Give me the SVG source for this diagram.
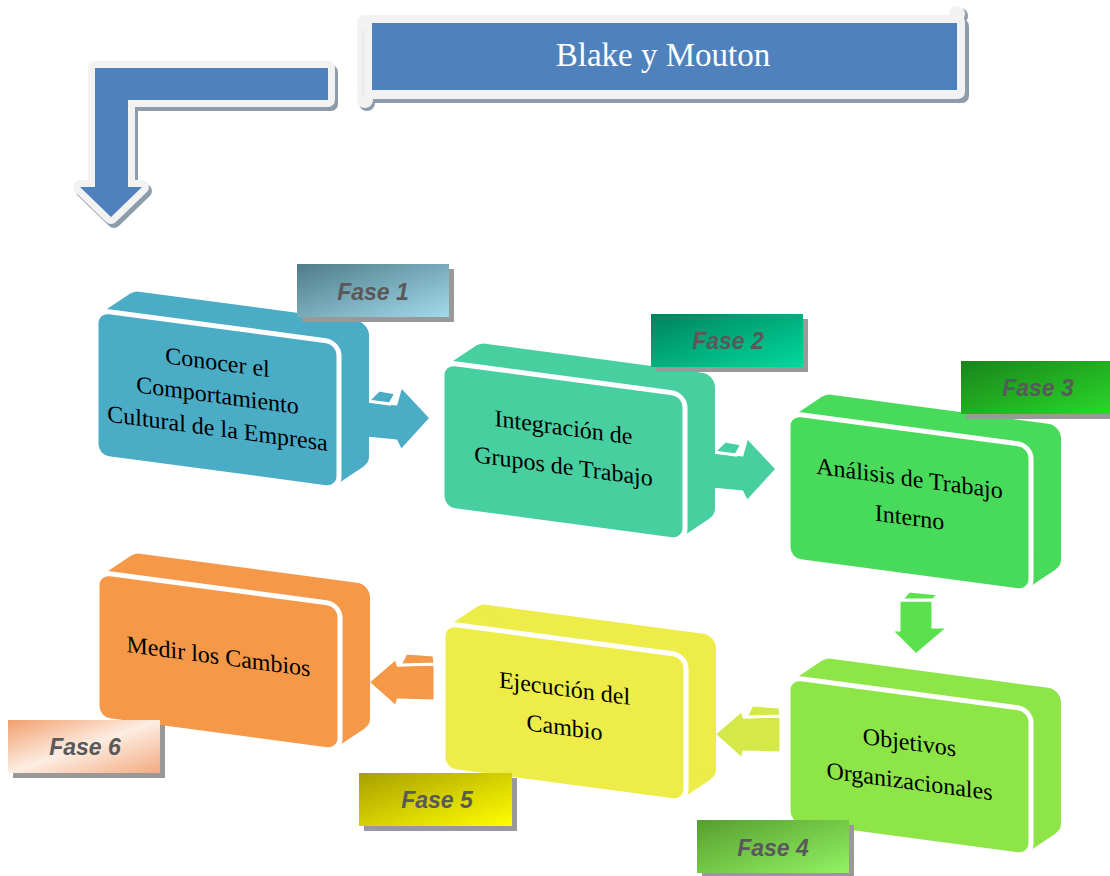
<svg xmlns="http://www.w3.org/2000/svg" xmlns:xlink="http://www.w3.org/1999/xlink" width="1110" height="876" viewBox="0 0 1110 876">
<defs>
<style>
.bt{font-family:"Liberation Serif","DejaVu Serif",serif;font-size:24px;fill:#000;text-anchor:middle}
.ft{font-family:"Liberation Sans",Arial,sans-serif;font-size:23px;font-weight:bold;font-style:italic;fill:#595959;text-anchor:middle}
.sh{fill:#999999}
.front{stroke:#ffffff;stroke-width:5}
.arr{stroke:#ffffff;stroke-width:3;stroke-linejoin:miter}
</style>
<rect id="face" width="243" height="147" rx="13"/>
<polygon id="sweep" points="4.6,2.7 34.6,-21.3 268.4,120.3 238.4,144.3"/>
<linearGradient id="g1" x1="0" y1="0" x2="1" y2="1"><stop offset="0" stop-color="#4E7C8A"/><stop offset="1" stop-color="#A2DAEA"/></linearGradient>
<linearGradient id="g2" x1="0" y1="0" x2="1" y2="1"><stop offset="0" stop-color="#00825C"/><stop offset="1" stop-color="#00DA9C"/></linearGradient>
<linearGradient id="g3" x1="0" y1="0" x2="1" y2="1"><stop offset="0" stop-color="#1A841A"/><stop offset="1" stop-color="#2AD82A"/></linearGradient>
<linearGradient id="g4" x1="0" y1="0" x2="1" y2="1"><stop offset="0" stop-color="#579E30"/><stop offset="1" stop-color="#92F262"/></linearGradient>
<linearGradient id="g5" x1="0" y1="0" x2="1" y2="1"><stop offset="0" stop-color="#A8A000"/><stop offset="1" stop-color="#FFFF00"/></linearGradient>
<linearGradient id="g6" x1="0" y1="0" x2="1" y2="1"><stop offset="0" stop-color="#F0A06E"/><stop offset="0.5" stop-color="#FDEDE2"/><stop offset="1" stop-color="#F3AA80"/></linearGradient>
</defs>

<!-- title banner -->
<g id="title">
<rect x="361" y="19" width="608" height="84" rx="7" fill="#8E9BAB"/>
<circle cx="960" cy="16" r="8" fill="#8E9BAB"/>
<circle cx="367" cy="103" r="8" fill="#8E9BAB"/>
<rect x="357" y="15" width="608" height="84" rx="7" fill="#F2F2F2"/>
<circle cx="957" cy="14" r="8" fill="#F2F2F2"/>
<circle cx="365" cy="100" r="8" fill="#F2F2F2"/>
<line x1="363" y1="30" x2="363" y2="95" stroke="#E0E0E0" stroke-width="1"/>
<rect x="372" y="23" width="585" height="67" fill="#4F81BD"/>
<text x="663" y="66" style="font-family:'Liberation Serif','DejaVu Serif',serif;font-size:33px;fill:#ffffff;text-anchor:middle">Blake y Mouton</text>
</g>

<!-- bent arrow -->
<g id="bent-arrow">
<path d="M95,68 H328 V100 H128 V187 H142 L111,217 L80,187 H95 Z" transform="translate(3,4)" fill="#8E9BAB" stroke="#8E9BAB" stroke-width="14" stroke-linejoin="round"/>
<path d="M95,68 H328 V100 H128 V187 H142 L111,217 L80,187 H95 Z" fill="#F2F2F2" stroke="#F2F2F2" stroke-width="14" stroke-linejoin="round"/>
<path d="M95,68 H328 V100 H128 V187 H142 L111,217 L80,187 H95 Z" fill="#4F81BD"/>
</g>

<!-- connectors -->
<g id="connectors">
<g id="a1" fill="#4BACC6">
<polygon class="arr" points="366,401 396,404 401,386 431,418 401,451 396,441 366,438"/>
<polygon class="arr" points="368,401 379,390 396,393 390,404"/>
</g>
<g id="a2" fill="#48CF9F" transform="translate(346,51)">
<polygon class="arr" points="366,401 396,404 401,386 431,418 401,451 396,441 366,438"/>
<polygon class="arr" points="368,401 379,390 396,393 390,404"/>
</g>
<g id="a3" fill="#5BE04E">
<polygon class="arr" points="899,600 933,600 933,627 949,627 916,655 891,630 899,630"/>
<polygon class="arr" points="901,600 909,591 939,594 933,600"/>
</g>
<g id="a4" fill="#D4E84A">
<polygon class="arr" points="714,734 742,710 744,717 781,716 781,753 744,752 742,759"/>
<polygon class="arr" points="746,717 752,705 780,707 781,716"/>
</g>
<g id="a5" fill="#F59847" transform="translate(-346,-52)">
<polygon class="arr" points="714,734 742,710 744,717 781,716 781,753 744,752 742,759"/>
<polygon class="arr" points="746,717 752,705 780,707 781,716"/>
</g>
</g>

<!-- boxes -->
<g id="box1" transform="translate(96,310) skewY(7.6)" fill="#4BACC6">
<use xlink:href="#face" x="30" y="-24"/><use xlink:href="#sweep"/><use xlink:href="#face" class="front"/>
<text class="bt" x="121.5" y="44">Conocer el</text>
<text class="bt" x="121.5" y="77">Comportamiento</text>
<text class="bt" x="121.5" y="110">Cultural de la Empresa</text>
</g>
<g id="box2" transform="translate(442,362) skewY(7.6)" fill="#48CF9F">
<use xlink:href="#face" x="30" y="-24"/><use xlink:href="#sweep"/><use xlink:href="#face" class="front"/>
<text class="bt" x="121.5" y="57">Integración de</text>
<text class="bt" x="121.5" y="96">Grupos de Trabajo</text>
</g>
<g id="box3" transform="translate(788,413) skewY(7.6)" fill="#48DA5A">
<use xlink:href="#face" x="30" y="-24"/><use xlink:href="#sweep"/><use xlink:href="#face" class="front"/>
<text class="bt" x="121.5" y="57">Análisis de Trabajo</text>
<text class="bt" x="121.5" y="96">Interno</text>
</g>
<g id="box4" transform="translate(788,677) skewY(7.6)" fill="#8DE548">
<use xlink:href="#face" x="30" y="-24"/><use xlink:href="#sweep"/><use xlink:href="#face" class="front"/>
<text class="bt" x="121.5" y="57">Objetivos</text>
<text class="bt" x="121.5" y="96">Organizacionales</text>
</g>
<g id="box5" transform="translate(443,623) skewY(7.6)" fill="#EDEC48">
<use xlink:href="#face" x="30" y="-24"/><use xlink:href="#sweep"/><use xlink:href="#face" class="front"/>
<text class="bt" x="121.5" y="57">Ejecución del</text>
<text class="bt" x="121.5" y="96">Cambio</text>
</g>
<g id="box6" transform="translate(97,572) skewY(7.6)" fill="#F59847">
<use xlink:href="#face" x="30" y="-24"/><use xlink:href="#sweep"/><use xlink:href="#face" class="front"/>
<text class="bt" x="121.5" y="76">Medir los Cambios</text>
</g>

<!-- phase labels -->
<g id="fase1"><rect class="sh" x="302" y="269" width="152" height="53"/><rect x="297" y="264" width="152" height="53" fill="url(#g1)"/><text class="ft" x="373" y="300">Fase 1</text></g>
<g id="fase2"><rect class="sh" x="656" y="319" width="152" height="53"/><rect x="651" y="314" width="152" height="53" fill="url(#g2)"/><text class="ft" x="728" y="349">Fase 2</text></g>
<g id="fase3"><rect class="sh" x="966" y="366" width="152" height="53"/><rect x="961" y="361" width="152" height="53" fill="url(#g3)"/><text class="ft" x="1038" y="396">Fase 3</text></g>
<g id="fase4"><rect class="sh" x="702" y="825" width="152" height="53"/><rect x="697" y="820" width="152" height="53" fill="url(#g4)"/><text class="ft" x="773" y="856">Fase 4</text></g>
<g id="fase5"><rect class="sh" x="364" y="778" width="153" height="53"/><rect x="359" y="773" width="153" height="53" fill="url(#g5)"/><text class="ft" x="437" y="808">Fase 5</text></g>
<g id="fase6"><rect class="sh" x="13" y="725" width="152" height="53"/><rect x="8" y="720" width="152" height="53" fill="url(#g6)"/><text class="ft" x="85" y="755">Fase 6</text></g>
</svg>
